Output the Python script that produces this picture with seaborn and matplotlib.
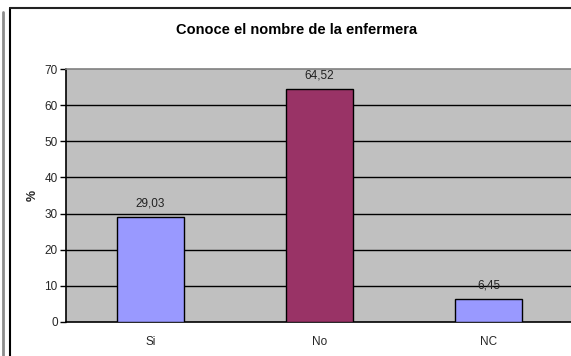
import matplotlib
matplotlib.use("Agg")
import matplotlib.pyplot as plt
from matplotlib.lines import Line2D
import seaborn as sns
import pandas as pd

categories = ["Si", "No", "NC"]
values = [29.03, 64.52, 6.45]
value_labels = ["29,03", "64,52", "6,45"]
colors = ["#9999FF", "#993366", "#9999FF"]
y_ticks = [0, 10, 20, 30, 40, 50, 60, 70]

sns.set_theme(style="white")
plt.rcParams["font.family"] = ["Liberation Sans", "DejaVu Sans"]

W, H = 571, 356
fig = plt.figure(figsize=(W / 100, H / 100), dpi=100)
ax = fig.add_axes([66 / W, 1 - 322 / H, (573 - 66) / W, (322 - 69) / H])
ax.set_facecolor("#C0C0C0")

df = pd.DataFrame({"cat": categories, "val": values})
sns.barplot(data=df, x="cat", y="val", hue="cat", palette=colors, order=categories,
            saturation=1, width=0.4, edgecolor="black", linewidth=1.0, legend=False,
            ax=ax, zorder=3)

ax.set_ylim(0, 70)
ax.set_xlim(-0.5, 2.5)
ax.set_yticks(y_ticks)
ax.set_yticklabels([str(t) for t in y_ticks], fontsize=8.5)
for t in y_ticks[1:-1]:
    ax.axhline(t, color="black", linewidth=1.0, zorder=1)

# category tick marks sit between the bars
ax.set_xticks([0, 1, 2])
ax.set_xticklabels(categories, fontsize=8.5)
ax.tick_params(axis="x", length=0, pad=10)
ax.set_xticks([0.5, 1.5], minor=True)
ax.tick_params(axis="x", which="minor", length=4, width=1, color="black", direction="out")
ax.tick_params(axis="y", length=4, width=1, color="black", direction="out", pad=2, left=True)

for side, col in (("left", "black"), ("bottom", "black"), ("top", "#808080"), ("right", "#808080")):
    ax.spines[side].set_visible(True)
    ax.spines[side].set_color(col)
    ax.spines[side].set_linewidth(1.2)

for i, (v, lab) in enumerate(zip(values, value_labels)):
    ax.text(i, v + 2.0, lab, ha="center", va="bottom", fontsize=8.5, color="#222222", zorder=4)

ax.set_xlabel("")
ax.set_ylabel("%", fontsize=9, fontweight="bold", labelpad=4)

fig.text(297 / W, 1 - 30 / H, "Conoce el nombre de la enfermera", ha="center", va="center",
         fontsize=10.5, fontweight="bold", color="black")

# chart frame lines
fig.add_artist(Line2D([9.5 / W, 9.5 / W], [0, 1 - 7.5 / H], transform=fig.transFigure,
                      color="black", linewidth=1.5))
fig.add_artist(Line2D([9.5 / W, 1], [1 - 7.5 / H, 1 - 7.5 / H], transform=fig.transFigure,
                      color="#222222", linewidth=1.5))
fig.add_artist(Line2D([3 / W, 3 / W], [0, 1 - 12 / H], transform=fig.transFigure,
                      color="#8C8C8C", linewidth=2.0))

fig.savefig("out.png", dpi=100)
